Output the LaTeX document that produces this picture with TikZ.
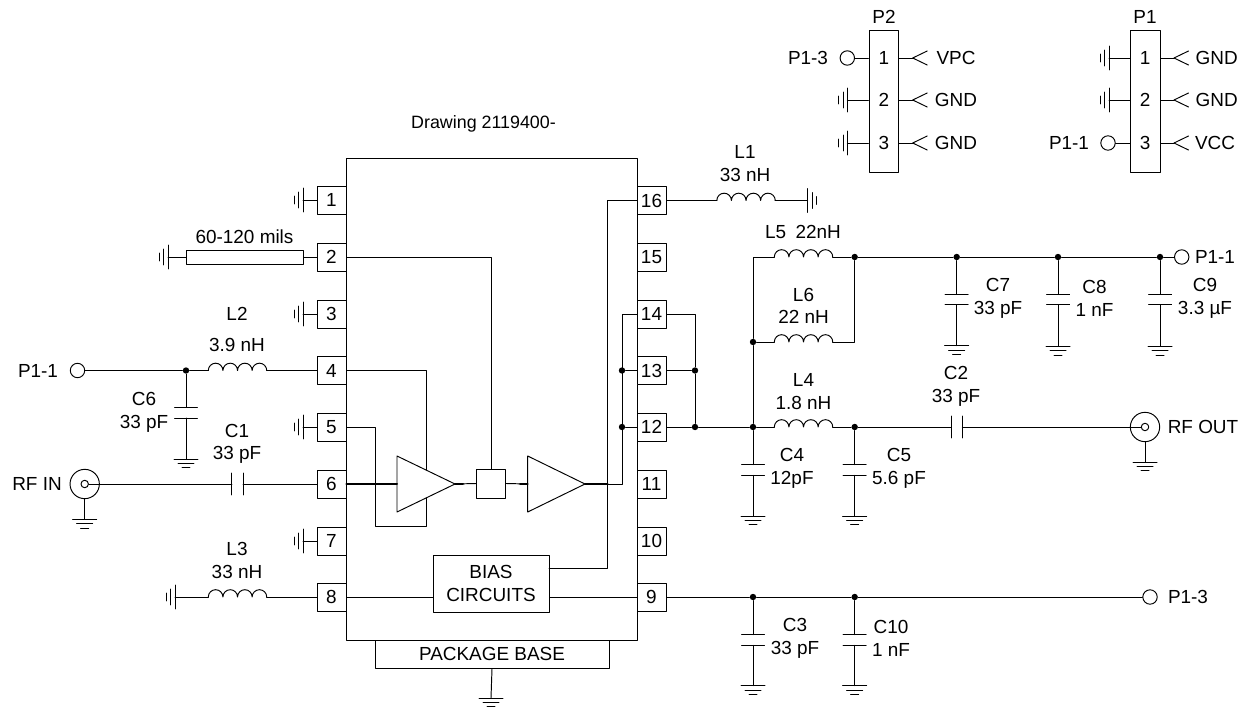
\documentclass[tikz,border=0pt]{standalone}
\usepackage{fontspec}
\setmainfont{Liberation Sans}
\begin{document}
\begin{tikzpicture}[x=.75pt,y=-.75pt,line cap=round,line join=round,line width=.72pt,
		font=\fontsize{14.2}{17}\selectfont,
		pinbox/.style={draw,fill=white,minimum width=21.75pt,minimum height=21pt,inner sep=0},
		lbl/.style={align=center,inner sep=0},
		dot/.style={circle,fill=black,inner sep=0,minimum size=4.8pt},
		term/.style={circle,draw,inner sep=0,minimum size=10.8pt},
		coilnode/.style={inner sep=0,outer sep=0,minimum width=43.8pt,minimum height=0pt},
		capv/.style={inner sep=0,outer sep=0,minimum width=17.25pt,minimum height=8pt},
		caph/.style={inner sep=0,outer sep=0,minimum width=8.4pt,minimum height=16.5pt},
		wirebold/.style={line width=1.5pt},
		gnd/.pic={\draw (-12,0) to (12,0); \draw (-8,4.3) to (8,4.3); \draw (-4,8.6) to (4,8.6);},
		coil/.pic={\draw (-29.2,0) arc[start angle=180,end angle=0,radius=5.48pt] arc[start angle=180,end angle=0,radius=5.48pt] arc[start angle=180,end angle=0,radius=5.48pt] arc[start angle=180,end angle=0,radius=5.48pt];},
		platev/.pic={\draw (-11.5,-5.3) to (11.5,-5.3); \draw (-11.5,5.3) to (11.5,5.3);},
		plateh/.pic={\draw (-5.6,-11) to (-5.6,11); \draw (5.6,-11) to (5.6,11);},
		jack/.pic={\draw (14.5,-7) to (0,0) to (14.5,7);}]
	\useasboundingbox (0,0) rectangle (1248,709);
	% package
	\node[draw,minimum width=175.5pt,minimum height=21pt,inner sep=0] (base) at (492,654) {PACKAGE BASE};
	\coordinate (gbase) at (491,698);
	\draw (base.south) to (gbase);
	\pic at (gbase) {gnd};
	\node[draw,fill=white,minimum width=218.25pt,minimum height=361.5pt,inner sep=0] (ic) at (491.5,399) {};
	\node[lbl,font=\fontsize{13.4}{17}\selectfont] (title) at (483.5,123.5) {Drawing 2119400-};
	% pins
	\node[pinbox] (p1) at (331.5,200) {1};
	\node[pinbox] (p2) at (331.5,257) {2};
	\node[pinbox] (p3) at (331.5,314) {3};
	\node[pinbox] (p4) at (331.5,370.5) {4};
	\node[pinbox] (p5) at (331.5,427) {5};
	\node[pinbox] (p6) at (331.5,484) {6};
	\node[pinbox] (p7) at (331.5,541) {7};
	\node[pinbox] (p8) at (331.5,597) {8};
	\node[pinbox] (p9) at (651.5,597) {9};
	\node[pinbox] (p10) at (651.5,541) {10};
	\node[pinbox] (p11) at (651.5,484) {11};
	\node[pinbox] (p12) at (651.5,427) {12};
	\node[pinbox] (p13) at (651.5,370.5) {13};
	\node[pinbox] (p14) at (651.5,314) {14};
	\node[pinbox] (p15) at (651.5,257) {15};
	\node[pinbox] (p16) at (651.5,200.5) {16};
	% grounds on the left pins
	\coordinate (g1) at (303,200);
	\coordinate (g3) at (303,314);
	\coordinate (g5) at (303,427);
	\coordinate (g7) at (303,541);
	\draw (p1.west) to (g1);
	\draw (p3.west) to (g3);
	\draw (p5.west) to (g5);
	\draw (p7.west) to (g7);
	\pic[rotate=-90] at (g1) {gnd};
	\pic[rotate=-90] at (g3) {gnd};
	\pic[rotate=-90] at (g5) {gnd};
	\pic[rotate=-90] at (g7) {gnd};
	% strip line on pin 2
	\node[draw,minimum width=87.75pt,minimum height=10.5pt,inner sep=0] (tline) at (244.5,257) {};
	\node[lbl] (tlinelbl) at (244.5,237) {60-120 mils};
	\coordinate (g2) at (168,257);
	\draw (p2.west) to (tline.east);
	\draw (tline.west) to (g2);
	\pic[rotate=-90] at (g2) {gnd};
	% inputs
	\node[term] (vin) at (77.5,370.5) {};
	\node[lbl] (vinlbl) at (38,370.5) {P1-1};
	\node[dot] (d6) at (186,370.5) {};
	\node[coilnode] (L2) at (237.5,370.5) {};
	\pic at (L2) {coil};
	\node[lbl] (L2lbl) at (237,329.5) {L2\\[6pt]3.9 nH};
	\draw (vin) to (d6);
	\draw (d6) to (L2.west);
	\draw (L2.east) to (p4.west);
	\node[capv] (C6) at (186,412.7) {};
	\pic at (C6) {platev};
	\coordinate (gC6) at (186,459);
	\draw (d6) to (C6.north);
	\draw (C6.south) to (gC6);
	\pic at (gC6) {gnd};
	\node[lbl] (C6lbl) at (144,412.5) {C6\\33 pF};
	\node[term,minimum size=22pt] (rfin) at (84.7,484) {};
	\node[term,minimum size=5.6pt] (rfinc) at (84.7,484) {};
	\node[lbl] (rfinlbl) at (37,484) {RF IN};
	\coordinate (grfin) at (84.7,519.5);
	\draw (rfin.south) to (grfin);
	\pic at (grfin) {gnd};
	\node[caph] (C1) at (237.5,484) {};
	\pic at (C1) {plateh};
	\node[lbl] (C1lbl) at (237,444) {C1\\33 pF};
	\draw (rfinc.east) to (C1.west);
	\draw (C1.east) to (p6.west);
	\node[coilnode] (L3) at (237.5,597) {};
	\pic at (L3) {coil};
	\node[lbl] (L3lbl) at (237,560.5) {L3\\33 nH};
	\coordinate (g8) at (175,597);
	\draw (L3.west) to (g8);
	\draw (L3.east) to (p8.west);
	\pic[rotate=-90] at (g8) {gnd};
	% inside the chip
	\coordinate (fb1) at (375.5,427);
	\coordinate (fb2) at (375.5,526.7);
	\coordinate (fb3) at (426,526.7);
	\coordinate (fb4) at (426,370.5);
	\draw (p5.east) to (fb1) to (fb2) to (fb3) to (fb4) to (p4.east);
	\coordinate (tri1in) at (397,484);
	\coordinate (tri1out) at (455,484);
	\coordinate (tri2in) at (527.7,484);
	\coordinate (tri2out) at (585,484);
	\draw[fill=white] (397,456) to (tri1out) to (397,512) to cycle;
	\draw[fill=white] (527.7,456) to (tri2out) to (527.7,512) to cycle;
	\node[draw,minimum width=21.75pt,minimum height=21.75pt,inner sep=0] (sw) at (491.3,483.5) {};
	\draw[wirebold] (p6.east) to (tri1in);
	\draw (tri1out) to (sw.west);
	\draw (sw.east) to (tri2in);
	\coordinate (tri1end) at (463,484);
	\coordinate (tri2start) at (520,484);
	\draw[wirebold] (tri1out) to (tri1end);
	\draw[wirebold] (tri2start) to (tri2in);
	\coordinate (tap2) at (491.3,257);
	\draw (p2.east) to (tap2) to (sw.north);
	\coordinate (out1) at (607.7,484);
	\coordinate (out2) at (622,484);
	\coordinate (out3) at (622,314);
	\draw[wirebold] (tri2out) to (out1);
	\draw (out1) to (out2) to (out3) to (p14.west);
	\node[dot] (d13i) at (622,370.5) {};
	\node[dot] (d12i) at (622,427) {};
	\draw (d13i) to (p13.west);
	\draw (d12i) to (p12.west);
	\node[draw,align=center,fill=white,minimum width=87pt,minimum height=42.75pt,inner sep=0] (bias) at (491,583.5) {BIAS\\CIRCUITS};
	\draw (p8.east) to (p8 -| bias.west);
	\draw (bias.east |- p9) to (p9.west);
	\coordinate (biasout) at (549,568.7);
	\coordinate (biasup) at (607.7,568.7);
	\coordinate (biastop) at (607.7,200.5);
	\draw (biasout) to (biasup) to (biastop) to (p16.west);
	% right side
	\coordinate (j14) at (695,314);
	\node[dot] (d13) at (695,370.5) {};
	\node[dot] (d12) at (695,427) {};
	\draw (p14.east) to (j14) to (d13);
	\draw (d13) to (d12);
	\draw (p13.east) to (d13);
	\draw (p12.east) to (d12);
	\node[coilnode] (L1) at (746,200.5) {};
	\pic at (L1) {coil};
	\node[lbl] (L1lbl) at (745,163.5) {L1\\33 nH};
	\coordinate (g16) at (807.7,200.5);
	\draw (p16.east) to (L1.west);
	\draw (L1.east) to (g16);
	\pic[rotate=90] at (g16) {gnd};
	\node[dot] (d4) at (753,427) {};
	\node[dot] (d5) at (854.7,427) {};
	\node[dot] (d7) at (753,342) {};
	\node[dot] (d8) at (854.7,257) {};
	\node[coilnode] (L5) at (803.5,257) {};
	\node[coilnode] (L6) at (803.5,342) {};
	\node[coilnode] (L4) at (803.5,427) {};
	\pic at (L5) {coil};
	\pic at (L6) {coil};
	\pic at (L4) {coil};
	\node[lbl] (L5lbl) at (803,231.5) {L5\,\,\,22nH};
	\node[lbl] (L6lbl) at (803.5,306) {L6\\22 nH};
	\node[lbl] (L4lbl) at (803.5,391.5) {L4\\1.8 nH};
	\coordinate (l5in) at (753,257);
	\coordinate (l6out) at (854.7,342);
	\draw (d12) to (d4);
	\draw (d4) to (L4.west);
	\draw (L4.east) to (d5);
	\draw (d4) to (d7);
	\draw (d7) to (l5in) to (L5.west);
	\draw (L5.east) to (d8);
	\draw (d7) to (L6.west);
	\draw (L6.east) to (l6out) to (d8);
	% supply rail
	\node[dot] (d10) at (956.7,257) {};
	\node[dot] (d11) at (1058,257) {};
	\node[dot] (d14) at (1160,257) {};
	\node[term] (vcc) at (1181.7,257) {};
	\node[lbl] (vcclbl) at (1215,257) {P1-1};
	\draw (d8) to (d10);
	\draw (d10) to (d11);
	\draw (d11) to (d14);
	\draw (d14) to (vcc);
	\node[capv] (C7) at (956.7,299.5) {};
	\node[capv] (C8) at (1058,299.5) {};
	\node[capv] (C9) at (1160,299.5) {};
	\pic at (C7) {platev};
	\pic at (C8) {platev};
	\pic at (C9) {platev};
	\coordinate (gC7) at (956.7,345.7);
	\coordinate (gC8) at (1058,346.5);
	\coordinate (gC9) at (1160,346.5);
	\draw (d10) to (C7.north);
	\draw (d11) to (C8.north);
	\draw (d14) to (C9.north);
	\draw (C7.south) to (gC7);
	\draw (C8.south) to (gC8);
	\draw (C9.south) to (gC9);
	\pic at (gC7) {gnd};
	\pic at (gC8) {gnd};
	\pic at (gC9) {gnd};
	\node[lbl] (C7lbl) at (998,298.5) {C7\\33 pF};
	\node[lbl] (C8lbl) at (1094.5,298.5) {C8\\1 nF};
	\node[lbl] (C9lbl) at (1205,298.5) {C9\\3.3 µF};
	% output
	\node[caph] (C2) at (956.7,427) {};
	\pic at (C2) {plateh};
	\node[lbl] (C2lbl) at (956,386.5) {C2\\33 pF};
	\node[term,minimum size=22pt] (rfout) at (1145,427) {};
	\node[term,minimum size=5.6pt] (rfoutc) at (1145,427) {};
	\node[lbl] (rfoutlbl) at (1203,427) {RF OUT};
	\coordinate (grfout) at (1145,462);
	\draw (d5) to (C2.west);
	\draw (C2.east) to (rfoutc.west);
	\draw (rfout.south) to (grfout);
	\pic at (grfout) {gnd};
	\node[capv] (C4) at (753,470) {};
	\node[capv] (C5) at (854.7,470) {};
	\pic at (C4) {platev};
	\pic at (C5) {platev};
	\coordinate (gC4) at (753,516);
	\coordinate (gC5) at (854.7,516);
	\draw (d4) to (C4.north);
	\draw (d5) to (C5.north);
	\draw (C4.south) to (gC4);
	\draw (C5.south) to (gC5);
	\pic at (gC4) {gnd};
	\pic at (gC5) {gnd};
	\node[lbl] (C4lbl) at (792,468.5) {C4\\12pF};
	\node[lbl] (C5lbl) at (899,468.5) {C5\\5.6 pF};
	% pin 9 rail
	\node[dot] (d3) at (753,597) {};
	\node[dot] (d15) at (854.7,597) {};
	\node[term] (vpc) at (1150,597) {};
	\node[lbl] (vpclbl) at (1188,597) {P1-3};
	\draw (p9.east) to (d3);
	\draw (d3) to (d15);
	\draw (d15) to (vpc);
	\node[capv] (C3) at (753,640) {};
	\node[capv] (C10) at (854.7,640) {};
	\pic at (C3) {platev};
	\pic at (C10) {platev};
	\coordinate (gC3) at (753,685.7);
	\coordinate (gC10) at (854.7,685.7);
	\draw (d3) to (C3.north);
	\draw (d15) to (C10.north);
	\draw (C3.south) to (gC3);
	\draw (C10.south) to (gC10);
	\pic at (gC3) {gnd};
	\pic at (gC10) {gnd};
	\node[lbl] (C3lbl) at (795,638.5) {C3\\33 pF};
	\node[lbl] (C10lbl) at (891,638.5) {C10\\1 nF};
	% connector P2
	\node[draw,minimum width=22.25pt,minimum height=106.5pt,inner sep=0] (P2) at (883.8,101) {};
	\node[lbl] (P2lbl) at (884,17) {P2};
	\node[lbl] (P2n1) at (884,58) {1};
	\node[lbl] (P2n2) at (884,100) {2};
	\node[lbl] (P2n3) at (884,143) {3};
	\node[term] (P2t1) at (847.3,58) {};
	\node[lbl] (P2t1lbl) at (808,58) {P1-3};
	\coordinate (P2g2) at (847.3,100);
	\coordinate (P2g3) at (847.3,143);
	\draw (P2t1) to (P2t1 -| P2.west);
	\draw (P2g2) to (P2g2 -| P2.west);
	\draw (P2g3) to (P2g3 -| P2.west);
	\pic[rotate=-90] at (P2g2) {gnd};
	\pic[rotate=-90] at (P2g3) {gnd};
	\coordinate (P2j1) at (912.7,58);
	\coordinate (P2j2) at (912.7,100);
	\coordinate (P2j3) at (912.7,143);
	\draw (P2j1 -| P2.east) to (P2j1);
	\draw (P2j2 -| P2.east) to (P2j2);
	\draw (P2j3 -| P2.east) to (P2j3);
	\pic at (P2j1) {jack};
	\pic at (P2j2) {jack};
	\pic at (P2j3) {jack};
	\node[lbl] (P2j1lbl) at (956,58) {VPC};
	\node[lbl] (P2j2lbl) at (956,100) {GND};
	\node[lbl] (P2j3lbl) at (956,143) {GND};
	% connector P1
	\node[draw,minimum width=22.25pt,minimum height=106.5pt,inner sep=0] (P1) at (1145.3,101) {};
	\node[lbl] (P1lbl) at (1145,17) {P1};
	\node[lbl] (P1n1) at (1145,58) {1};
	\node[lbl] (P1n2) at (1145,100) {2};
	\node[lbl] (P1n3) at (1145,143) {3};
	\node[term] (P1t3) at (1108,143) {};
	\node[lbl] (P1t3lbl) at (1069,143) {P1-1};
	\coordinate (P1g1) at (1109,58);
	\coordinate (P1g2) at (1109,100);
	\draw (P1t3) to (P1t3 -| P1.west);
	\draw (P1g1) to (P1g1 -| P1.west);
	\draw (P1g2) to (P1g2 -| P1.west);
	\pic[rotate=-90] at (P1g1) {gnd};
	\pic[rotate=-90] at (P1g2) {gnd};
	\coordinate (P1j1) at (1174,58);
	\coordinate (P1j2) at (1174,100);
	\coordinate (P1j3) at (1174,143);
	\draw (P1j1 -| P1.east) to (P1j1);
	\draw (P1j2 -| P1.east) to (P1j2);
	\draw (P1j3 -| P1.east) to (P1j3);
	\pic at (P1j1) {jack};
	\pic at (P1j2) {jack};
	\pic at (P1j3) {jack};
	\node[lbl] (P1j1lbl) at (1216.7,58) {GND};
	\node[lbl] (P1j2lbl) at (1216.7,100) {GND};
	\node[lbl] (P1j3lbl) at (1215,143) {VCC};
\end{tikzpicture}
\end{document}
